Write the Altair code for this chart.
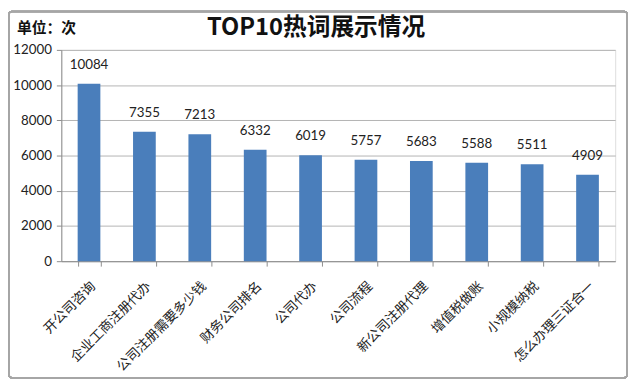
import altair as alt
import pandas as pd

categories = ["开公司咨询", "企业工商注册代办", "公司注册需要多少钱", "财务公司排名", "公司代办",
              "公司流程", "新公司注册代理", "增值税做账", "小规模纳税", "怎么办理三证合一"]
values = [10084, 7355, 7213, 6332, 6019, 5757, 5683, 5588, 5511, 4909]
y_ticks = [0, 2000, 4000, 6000, 8000, 10000, 12000]
chart_title = "TOP10热词展示情况"
unit_label = "单位：次"

df = pd.DataFrame({"cat": categories, "val": values})

CJK = "Noto Sans CJK SC"
NUM = "Lato, Noto Sans CJK SC"

x_enc = alt.X("cat:N", sort=None, title=None,
              scale=alt.Scale(paddingInner=0.59, paddingOuter=0.295),
              axis=alt.Axis(labelAngle=-45, labelAlign="right", labelBaseline="middle",
                            labelFont=CJK, labelFontSize=13.5, labelColor="#222222",
                            labelPadding=18, labelOffset=4, tickBand="extent", tickSize=5,
                            tickColor="#8c8c8c", domainColor="#8c8c8c", grid=False))
y_enc = alt.Y("val:Q", title=None,
              scale=alt.Scale(domain=[0, 12000]),
              axis=alt.Axis(values=y_ticks, format="d", labelFont=NUM, labelFontSize=13.5,
                            labelColor="#222222", labelPadding=5, tickSize=5,
                            labelOverlap=False,
                            tickColor="#8c8c8c", domainColor="#8c8c8c",
                            gridColor="#b4b4b4"))

base = alt.Chart(df).encode(x=x_enc, y=y_enc)
bars = base.mark_bar(color="#4a7ebb")
labels = base.mark_text(dy=-19, font=NUM, fontSize=13.5, color="#222222").encode(text="val:Q")
frame = alt.Chart(df).mark_rect(fill=None, stroke="#a6a6a6", strokeWidth=1.5,
                                cornerRadius=3).encode(
    x=alt.value(-53), x2=alt.value(573), y=alt.value(-39), y2=alt.value(332))
title_df = pd.DataFrame({"t": [chart_title]})
title_mark = alt.Chart(title_df).mark_text(font=CJK, fontSize=24, fontWeight="bold",
                                           color="#111111", align="center",
                                           baseline="middle").encode(
    text="t:N", x=alt.value(258), y=alt.value(-22))
unit_df = pd.DataFrame({"t": [unit_label]})
unit_mark = alt.Chart(unit_df).mark_text(font=CJK, fontSize=15, fontWeight="bold",
                                         color="#111111",
                                         align="left", baseline="middle").encode(
    text="t:N", x=alt.value(-45), y=alt.value(-22))

chart = alt.layer(frame, bars, labels, title_mark, unit_mark).properties(
    width=561, height=214,
    autosize=alt.AutoSizeParams(type="none"),
    padding={"left": 54, "top": 40, "right": 17, "bottom": 125},
).configure_view(stroke=None).configure(background="white")

chart.save("out.html", embed_options={"renderer": "svg", "actions": False})
